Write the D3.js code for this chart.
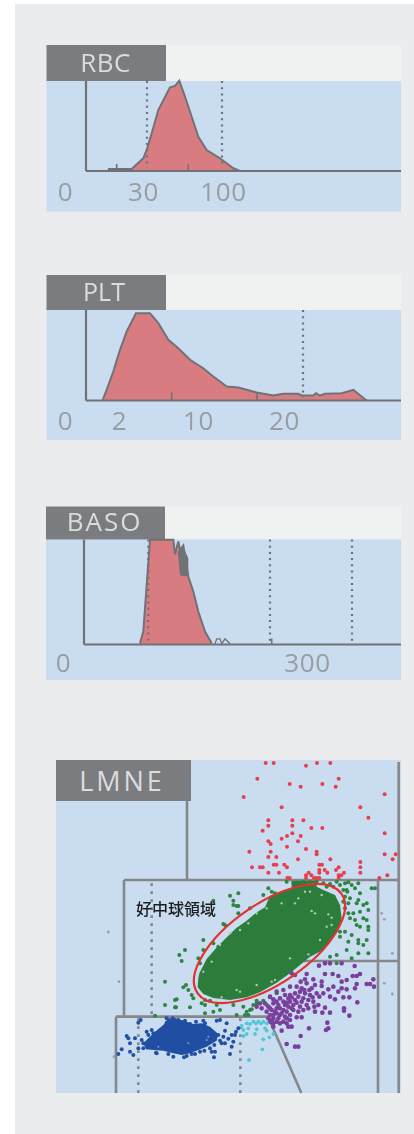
<!DOCTYPE html>
<html>
<head>
<meta charset="utf-8">
<script src="https://cdnjs.cloudflare.com/ajax/libs/d3/7.8.5/d3.min.js"></script>
<style>
  html, body { margin: 0; padding: 0; background: #fff; }
  svg { display: block; }
  .soft { filter: blur(0.7px); }
</style>
</head>
<body>
<svg id="chart" width="414" height="1134"></svg>
<script>
// histogram outlines: [channel, count]
const rbcCurve = [[22,0],[23,2],[45.7,2],[57.3,12.7],[60.7,21],[65.7,37.7],[72.3,61],[84,83.7],[89,85],[93.3,90.3],[99,74.3],[105.7,54.3],[112.3,34.3],[120.7,21],[134,12.7],[147.3,2.7],[154,0]];
const rbcGuides = [61, 136];
const rbcMarks = [[30.7,7],[102.3,7]];
const rbcTicks = [-21, 57, 137];
const rbcLabels = ["0", "30", "100"];

const pltCurve = [[16.7,0.7],[21.3,12.3],[27.3,29],[34,50.7],[40.7,69],[50,87.3],[64,87.3],[72.3,77.3],[82.3,60.7],[92.3,52.3],[104,40.7],[117.3,32.3],[127.3,24],[140.7,14],[152.3,13],[170.7,8],[187.3,5],[197.3,6.7],[212.3,6.7],[215.7,5],[227.3,5],[230,7.3],[234,5],[239,6.7],[255.7,7.3],[267.3,10.7],[279,1.3],[280.7,0]];
const pltGuides = [217];
const pltMarks = [[85.7,8],[171,8]];
const pltTicks = [-21, 33, 112, 198];
const pltLabels = ["0", "2", "10", "20"];

const basoCurve = [[56,1.3],[59.3,13],[62.7,59.7],[66,104.7],[89.3,104.7],[91,90.3],[94.3,103],[96,94.7],[99.3,99],[104.3,68],[109.3,53],[114.3,33],[121,13],[127.7,1.3]];
const basoDark = [[93.7,93],[99.3,98],[104.3,86],[104.3,68],[96,69]];
const basoNoise = [[131,0.7],[132.7,5.7],[136,5.7],[137.7,0.7],[141,5.7],[146,0.7]];
const basoGuides = [64.3, 186, 268];
const basoMarks = [[187.7,6]];
const basoTicks = [-21, 223];
const basoLabels = ["0", "300"];

// LMNE scatter: [x, y] in instrument units, y counted from the top
const redPoints = [[629,9],[653,9],[750,17],[783,9],[823,9],[604,56],[848,56],[701,72],[734,80],[799,72],[839,80],[563,111],[677,142],[986,103],[913,142],[937,173],[637,181],[709,181],[742,181],[637,197],[709,197],[620,212],[766,204],[799,204],[709,220],[693,228],[734,228],[677,236],[986,220],[637,244],[644,252],[726,244],[693,260],[750,267],[782,275],[782,283],[580,275],[644,275],[637,291],[661,291],[726,298],[823,298],[986,283],[1019,283],[1010,298],[588,322],[612,322],[620,322],[653,314],[661,314],[685,314],[693,322],[790,314],[798,314],[848,322],[840,330],[913,306],[913,322],[913,338],[637,338],[669,338],[790,330],[790,338],[806,330],[814,338],[758,338],[766,346],[750,346],[750,354],[694,354],[701,354],[774,354],[782,354],[790,354],[848,346],[856,346],[864,338],[848,354],[970,354],[994,346]];
const greenPoints = [[637,385],[647,395],[622,405],[657,400],[692,365],[712,370],[727,370],[742,365],[762,367],[782,365],[802,370],[842,365],[867,370],[877,367],[907,370],[887,375],[872,390],[897,385],[874,395],[947,385],[957,385],[912,400],[867,410],[882,415],[907,420],[877,430],[902,430],[922,435],[932,430],[937,450],[877,460],[892,460],[912,455],[882,475],[897,480],[922,475],[932,480],[902,495],[912,500],[937,500],[937,510],[867,515],[887,525],[852,515],[852,530],[907,540],[907,550],[877,545],[932,540],[922,555],[872,570],[937,580],[842,585],[887,595],[907,580],[522,407],[547,400],[532,422],[547,438],[472,422],[502,492],[442,540],[387,570],[370,585],[377,603],[427,595],[432,610],[442,570],[472,550],[487,560],[327,665],[390,675],[382,682],[397,690],[407,705],[412,715],[362,718],[327,735],[360,742],[402,742],[437,730],[447,720],[447,735],[492,750],[542,765],[577,765],[532,435],[542,438],[582,445],[547,460],[507,495],[297,767],[357,720],[357,742],[447,760],[472,755],[567,765],[582,750],[592,735],[602,730],[572,755],[587,748],[822,372],[832,380],[812,380],[852,375],[862,390],[862,425],[867,445],[842,610],[822,590],[602,722],[622,722],[642,712],[662,700],[632,735],[562,740],[532,735],[482,735],[462,722]];
const greenCore = [[427,655],[430,640],[452,597],[480,565],[507,537],[540,505],[572,482],[600,458],[627,442],[642,407],[672,395],[707,383],[707,362],[782,362],[782,380],[802,390],[837,405],[852,435],[857,475],[847,510],[822,540],[802,570],[762,590],[732,615],[702,640],[662,668],[612,697],[572,712],[522,720],[472,714],[442,702],[425,682]];
const greenGaps = [[677,430],[717,430],[767,453],[777,460],[817,463],[827,473],[812,500],[827,495],[792,540],[757,583],[727,415],[632,445],[747,395],[762,395],[797,405],[702,595],[542,690],[552,695],[602,675],[647,665],[657,660],[497,712],[442,635],[467,605],[492,555],[522,520],[552,510],[577,490],[602,460]];
const purplePoints = [[789,617],[807,610],[822,610],[857,610],[896,618],[912,642],[890,648],[902,648],[807,642],[830,642],[847,648],[872,660],[857,665],[797,665],[772,658],[752,642],[747,658],[717,645],[707,640],[734,665],[932,672],[942,672],[952,658],[954,680],[902,672],[897,685],[872,688],[857,685],[847,695],[832,680],[817,688],[797,678],[777,675],[767,685],[752,670],[737,685],[722,680],[702,680],[682,690],[662,695],[642,710],[627,730],[612,730],[602,740],[637,740],[652,730],[672,715],[687,705],[702,705],[717,700],[732,695],[747,700],[762,705],[782,700],[802,700],[822,710],[837,718],[862,712],[880,712],[904,727],[717,720],[702,725],[687,735],[672,745],[657,755],[642,765],[652,775],[672,765],[692,755],[712,750],[732,740],[752,735],[772,725],[787,735],[777,755],[799,758],[822,758],[807,743],[864,745],[864,752],[880,767],[642,785],[662,785],[682,785],[702,765],[702,780],[722,772],[737,772],[697,800],[707,800],[677,812],[652,800],[759,805],[814,788],[810,810],[817,805],[734,828],[692,852],[717,860],[727,860],[647,750],[662,725],[682,725],[697,715],[727,710],[742,715],[757,720],[737,725],[697,740],[712,735],[662,760],[647,780],[667,775],[687,770],[662,745],[677,760],[727,755],[742,750],[757,745],[692,775],[652,718],[642,745],[632,755],[617,745],[637,775],[652,790],[672,790],[692,790],[707,712],[722,728],[707,745],[682,750],[652,765],[667,735],[692,728],[745,690],[760,690],[770,712],[790,710],[775,740]];
const blueCore = [[262,850],[277,835],[297,815],[322,795],[337,775],[377,780],[412,792],[437,790],[462,800],[487,822],[482,842],[452,860],[427,870],[402,880],[377,885],[352,880],[322,872],[292,870],[270,868]];
const bluePoints = [[254,780],[247,788],[212,828],[217,835],[222,850],[237,835],[257,840],[262,850],[272,815],[292,820],[297,830],[197,868],[187,882],[222,875],[232,885],[247,865],[262,865],[302,880],[337,882],[384,892],[407,882],[417,882],[432,875],[467,875],[477,875],[474,892],[522,882],[527,860],[497,850],[507,850],[532,845],[507,812],[512,790],[547,805],[537,825],[527,825],[487,825],[462,835],[482,782],[492,780],[442,782],[402,792],[387,782],[367,780],[357,780],[332,788],[312,812],[502,830],[492,842],[475,855],[462,865],[332,775],[350,775],[420,785],[447,790],[287,810],[277,825],[300,878],[352,890],[392,888],[445,872],[517,836],[540,815]];
const blueGaps = [[307,860],[397,850],[452,840],[457,830]];
const cyanPoints = [[557,798],[572,790],[582,792],[592,785],[607,785],[622,785],[632,790],[562,810],[577,805],[572,822],[597,822],[562,828],[627,805],[632,812],[652,822],[622,838],[640,832],[619,868],[579,900],[602,808],[615,790],[600,790]];
const greyPoints = [[157,516],[189,665],[174,890],[985,670],[1009,702],[1009,580],[977,460],[985,478]];

const svg = d3.select("#chart");
const panelBlue = "#c9dcf0", headBlack = "#7b7c80", lineGrey = "#707276", redFill = "#d97c81";

svg.append("rect").attr("x", 15).attr("y", 4).attr("width", 399).attr("height", 1130).attr("fill", "#ebecee");
const soft = svg.append("g").attr("class", "soft");

function drawHist(opt) {
    const g = soft.append("g");
    const x = d3.scaleLinear().domain([-40, 315]).range([opt.axisX - 40, opt.axisX + 315]);
    const y = d3.scaleLinear().domain([0, 100]).range([opt.baseY, opt.baseY - 100]);

    g.append("rect").attr("x", opt.left).attr("y", opt.top).attr("width", 401 - opt.left).attr("height", opt.headBottom - opt.top).attr("fill", "#f0f1f1");
    g.append("rect").attr("x", opt.left).attr("y", opt.headBottom).attr("width", 401 - opt.left).attr("height", opt.bottom - opt.headBottom).attr("fill", panelBlue);
    g.append("rect").attr("x", opt.left).attr("y", opt.top).attr("width", opt.headRight - opt.left).attr("height", opt.headBottom - opt.top).attr("fill", headBlack);
    g.append("text").attr("x", opt.labelX).attr("y", opt.labelY).attr("text-anchor", "middle")
        .attr("font-family", "'Open Sans'").attr("font-size", opt.labelSize).attr("letter-spacing", opt.labelGap).attr("fill", "#dcdcdd").text(opt.name);

    const area = d3.area().x(d => x(d[0])).y0(y(0)).y1(d => y(d[1]));
    const line = d3.line().x(d => x(d[0])).y(d => y(d[1]));

    g.append("path").attr("d", area(opt.curve)).attr("fill", redFill);
    g.append("path").attr("d", line(opt.curve)).attr("fill", "none").attr("stroke", lineGrey).attr("stroke-width", 2);
    if (opt.dark) g.append("path").attr("d", line(opt.dark) + "Z").attr("fill", lineGrey);
    if (opt.noise) g.append("path").attr("d", line(opt.noise)).attr("fill", "none").attr("stroke", lineGrey).attr("stroke-width", 1.3);

    opt.guides.forEach(c => {
        g.append("line").attr("x1", x(c)).attr("x2", x(c)).attr("y1", opt.headBottom).attr("y2", y(3))
            .attr("stroke", lineGrey).attr("stroke-width", 2.2).attr("stroke-dasharray", "2 4.2");
    });
    opt.marks.forEach(m => {
        g.append("line").attr("x1", x(m[0])).attr("x2", x(m[0])).attr("y1", y(0)).attr("y2", y(m[1]))
            .attr("stroke", lineGrey).attr("stroke-width", 1.6);
    });

    g.append("line").attr("x1", x(0)).attr("x2", x(0)).attr("y1", opt.headBottom).attr("y2", y(0)).attr("stroke", lineGrey).attr("stroke-width", 2.2);
    g.append("line").attr("x1", x(0)).attr("x2", 401).attr("y1", y(0)).attr("y2", y(0)).attr("stroke", lineGrey).attr("stroke-width", 2.2);

    const axis = g.append("g").attr("transform", `translate(0, ${opt.baseY})`)
        .call(d3.axisBottom(x).tickValues(opt.ticks).tickFormat((d, i) => opt.labels[i]).tickSize(0));
    axis.select(".domain").remove();
    axis.selectAll("text").attr("y", opt.tickY - opt.baseY).attr("dy", 0)
        .attr("font-family", "'Open Sans'").attr("font-size", 26).attr("letter-spacing", 0.6).attr("fill", "#989da2");
}

drawHist({ name: "RBC", curve: rbcCurve, guides: rbcGuides, marks: rbcMarks, ticks: rbcTicks, labels: rbcLabels,
    left: 46.5, top: 45, headBottom: 81, headRight: 166, bottom: 211.5, axisX: 86, baseY: 171, tickY: 200.5, labelX: 105.5, labelY: 71.5, labelSize: 26, labelGap: 0.5 });
drawHist({ name: "PLT", curve: pltCurve, guides: pltGuides, marks: pltMarks, ticks: pltTicks, labels: pltLabels,
    left: 46.5, top: 275, headBottom: 310, headRight: 166, bottom: 440, axisX: 86, baseY: 400.5, tickY: 430, labelX: 104, labelY: 300.5, labelSize: 25, labelGap: 0 });
drawHist({ name: "BASO", curve: basoCurve, dark: basoDark, noise: basoNoise, guides: basoGuides, marks: basoMarks, ticks: basoTicks, labels: basoLabels,
    left: 46, top: 506.5, headBottom: 539.5, headRight: 165, bottom: 680, axisX: 84, baseY: 644.5, tickY: 671.5, labelX: 104.5, labelY: 531, labelSize: 26, labelGap: 2 });

// LMNE panel
const sx = d3.scaleLinear().domain([0, 1035]).range([56, 401]);
const sy = d3.scaleLinear().domain([0, 999]).range([760, 1093]);
const lm = soft.append("g");

lm.append("rect").attr("x", 56).attr("y", 760).attr("width", 345).attr("height", 333).attr("fill", panelBlue);

function scatter(points, color, r) {
    lm.append("g").selectAll("circle").data(points).enter().append("circle")
        .attr("cx", d => sx(d[0])).attr("cy", d => sy(d[1])).attr("r", r).attr("fill", color);
}
function blob(points, color) {
    lm.append("path").attr("d", d3.line().x(d => sx(d[0])).y(d => sy(d[1])).curve(d3.curveLinearClosed)(points)).attr("fill", color);
}

// gate lines, in the same units as the points
const gates = [[[393,123],[393,360]],[[204,360],[1026,360]],[[204,360],[204,770]],[[180,770],[636,770]],[[180,770],[180,999]],
    [[636,770],[736,999]],[[732,603],[1026,603]],[[966,360],[966,999]],[[1028,6],[1028,999]]];
gates.forEach(l => {
    lm.append("line").attr("x1", sx(l[0][0])).attr("y1", sy(l[0][1])).attr("x2", sx(l[1][0])).attr("y2", sy(l[1][1]))
        .attr("stroke", "#85878b").attr("stroke-width", 2.6);
});
const dotted = [[287,370,770],[247,775,999],[553,775,999]];
dotted.forEach(l => {
    lm.append("line").attr("x1", sx(l[0])).attr("x2", sx(l[0])).attr("y1", sy(l[1])).attr("y2", sy(l[2]))
        .attr("stroke", "#85878b").attr("stroke-width", 2.6).attr("stroke-dasharray", "2.6 5.4");
});

scatter(greyPoints, "#9a9ea3", 1.4);
scatter(redPoints, "#e6404f", 2);
scatter(greenPoints, "#2c8540", 2);
blob(greenCore, "#2c7c3c");
scatter(greenGaps, "#a9cdb8", 1.2);
scatter(purplePoints, "#7a3f9c", 2.3);
scatter(cyanPoints, "#4fc8da", 1.9);
scatter(bluePoints, "#2250a5", 2);
blob(blueCore, "#1f4ea3");
scatter(blueGaps, "#7f9ccc", 1);

lm.append("ellipse").attr("cx", sx(640.5)).attr("cy", sy(550.5)).attr("rx", 87.4).attr("ry", 39.9)
    .attr("transform", `rotate(-34.5 ${sx(640.5)} ${sy(550.5)})`)
    .attr("fill", "none").attr("stroke", "#e2322f").attr("stroke-width", 2.2);

lm.append("rect").attr("x", 56).attr("y", 760).attr("width", 135).attr("height", 41).attr("fill", headBlack);
lm.append("text").attr("x", 122).attr("y", 790.5).attr("text-anchor", "middle")
    .attr("font-family", "'Open Sans'").attr("font-size", 27).attr("letter-spacing", 3).attr("fill", "#dcdcdd").text("LMNE");

svg.append("text").attr("x", 176).attr("y", 915).attr("text-anchor", "middle")
    .attr("font-family", "'Noto Sans CJK JP'").attr("font-size", 16).attr("font-weight", 500).attr("fill", "#1d1d1f").text("好中球領域");
</script>
</body>
</html>
